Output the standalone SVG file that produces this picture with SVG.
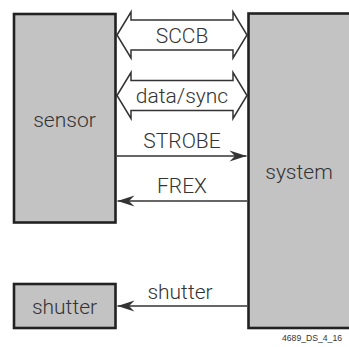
<svg xmlns="http://www.w3.org/2000/svg" width="349" height="347" viewBox="0 0 349 347">
<defs>
<style>
.box{fill:#c3c3c3;stroke:#222;stroke-width:2.6}
.lbl{font-family:Roboto,"Liberation Sans",sans-serif;font-size:21px;font-weight:300;fill:#333;text-anchor:middle}
.bus{fill:#fff;stroke:#333;stroke-width:1.5;stroke-linejoin:miter}
.wire{fill:none;stroke:#333;stroke-width:1.4}
</style>
<marker id="ah" markerUnits="userSpaceOnUse" markerWidth="20" markerHeight="14" viewBox="-18 -7 20 14" refX="0" refY="0" orient="auto">
<path d="M0,0 L-17,-5.5 L-11.5,0 L-17,5.5 Z" fill="#333"/>
</marker>
</defs>
<rect width="349" height="347" fill="#fff"/>
<g id="connectors">
<g id="sccb">
<path class="bus" d="M117,35 L131,12 L131,20 L233,20 L233,12 L247,35 L233,58 L233,50 L131,50 L131,58 Z"/>
<text class="lbl" x="182" y="42.5">SCCB</text>
</g>
<g id="datasync">
<path class="bus" d="M117,95.5 L131,72.5 L131,80.5 L233,80.5 L233,72.5 L247,95.5 L233,118.5 L233,110.5 L131,110.5 L131,118.5 Z"/>
<text class="lbl" x="182" y="102.5">data/sync</text>
</g>
<g id="strobe">
<line class="wire" x1="117" y1="156" x2="246.5" y2="156" marker-end="url(#ah)"/>
<text class="lbl" x="182" y="147.5">STROBE</text>
</g>
<g id="frex">
<line class="wire" x1="247" y1="201" x2="117.5" y2="201" marker-end="url(#ah)"/>
<text class="lbl" x="182" y="192.5">FREX</text>
</g>
<g id="shutter-wire">
<line class="wire" x1="247" y1="306" x2="117.5" y2="306" marker-end="url(#ah)"/>
<text class="lbl" x="180" y="298.5">shutter</text>
</g>
</g>
<g id="sensor">
<rect class="box" x="14" y="14" width="101.5" height="208.5"/>
<text class="lbl" x="64.5" y="126.5">sensor</text>
</g>
<g id="system">
<rect class="box" x="248.5" y="13.5" width="110" height="314.5"/>
<text class="lbl" x="299" y="178.5">system</text>
</g>
<g id="shutter">
<rect class="box" x="14" y="284" width="101.5" height="44"/>
<text class="lbl" x="64.5" y="314">shutter</text>
</g>
<text x="282" y="341" font-family="'Liberation Sans',sans-serif" font-size="9" textLength="60" lengthAdjust="spacingAndGlyphs" fill="#333">4689_DS_4_16</text>
</svg>
